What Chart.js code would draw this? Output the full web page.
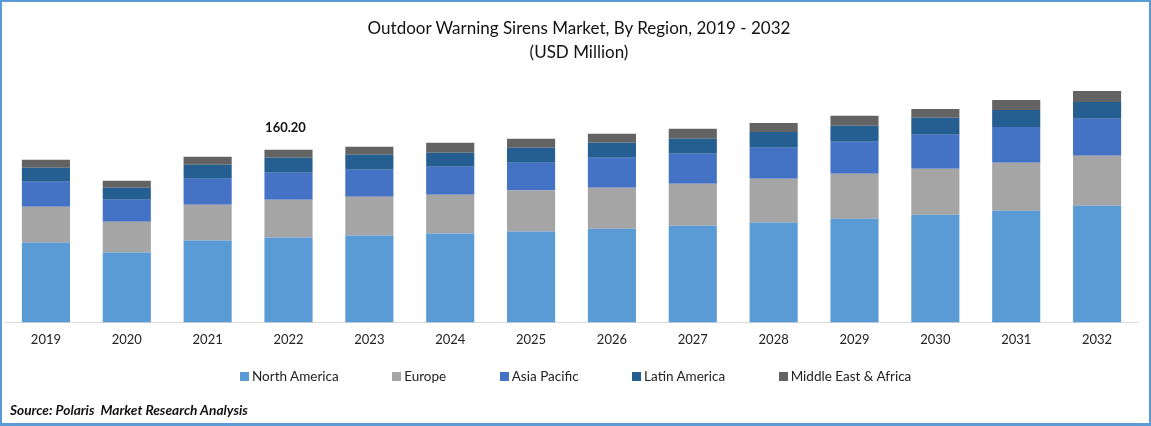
<!DOCTYPE html>
<html>
<head>
<meta charset="utf-8">
<script src="https://cdn.jsdelivr.net/npm/chart.js@4"></script>
<style>
  html, body { margin: 0; padding: 0; background: #fff; }
  #frame { position: relative; width: 1151px; height: 426px; box-sizing: border-box; overflow: hidden; border: 2px solid #5b9bd5; border-bottom-width: 3px; }
  #wrap { position: absolute; left: -2px; top: -2px; width: 1151px; height: 426px; }
  #title { position: absolute; left: 277px; width: 600px; top: 14px; text-align: center; font: 17px/24px Lato, sans-serif; color: #111; }
  #source { position: absolute; left: 8px; top: 399px; font: italic bold 13.7px Lato, sans-serif; color: #111; white-space: pre; }
  #legend { position: absolute; left: 238px; top: 366px; display: flex; gap: 53.5px; font: 13.5px Lato, sans-serif; color: #222; line-height: 16px; white-space: nowrap; }
  #legend span.item { display: flex; align-items: center; gap: 3px; }
  #legend i { display: block; width: 9px; height: 9px; }
</style>
</head>
<body>
<div id="frame">
  <div id="wrap"><canvas id="chart"></canvas></div>
  <div id="title">Outdoor Warning Sirens Market, By Region, 2019 - 2032<br>(USD Million)</div>
  <div id="legend"></div>
  <div id="source">Source: Polaris  Market Research Analysis</div>
</div>
<script>
const years = ['2019','2020','2021','2022','2023','2024','2025','2026','2027','2028','2029','2030','2031','2032'];
const northAmerica = [74.1,64.8,75.9,78.7,80.6,82.4,84.3,87.0,89.8,92.6,96.3,100.0,103.7,108.3];
const europe = [33.3,28.7,33.3,35.2,36.1,36.1,38.0,38.0,38.9,40.7,41.7,42.6,44.4,46.3];
const asiaPacific = [23.2,20.4,24.1,25.0,25.0,25.9,25.9,27.8,27.8,28.7,29.6,31.5,33.3,34.3];
const latinAmerica = [13.0,11.1,13.0,13.9,13.9,13.0,13.9,13.9,13.9,14.8,14.8,15.7,15.7,15.7];
const middleEast = [7.4,6.5,7.4,7.4,7.4,9.3,8.3,8.3,9.3,8.3,9.3,8.3,9.3,10.2];
const calloutYear = '2022';
const calloutText = '160.20';

const mkSeries = (label, data, color) => ({ label, data, backgroundColor: color, borderWidth: 0, categoryPercentage: 1, barPercentage: 0.595 });

// writes the one value shown above the 2022 bar
const calloutPlugin = {
    id: 'callout',
    afterDatasetsDraw(chart) {
        const idx = years.indexOf(calloutYear);
        const top = chart.getDatasetMeta(4).data[idx];
        const ctx = chart.ctx;
        ctx.save();
        ctx.font = 'bold 13px Lato, sans-serif';
        ctx.fillStyle = '#111';
        ctx.textAlign = 'center';
        ctx.textBaseline = 'middle';
        ctx.fillText(calloutText, top.x - 3, top.y - 22);
        ctx.restore();
    }
};

const chart = new Chart(document.getElementById('chart'), {
    type: 'bar',
    data: {
        labels: years,
        datasets: [
            mkSeries('North America', northAmerica, '#5b9bd5'),
            mkSeries('Europe', europe, '#a5a5a5'),
            mkSeries('Asia Pacific', asiaPacific, '#4472c4'),
            mkSeries('Latin America', latinAmerica, '#255e91'),
            mkSeries('Middle East & Africa', middleEast, '#636363')
        ]
    },
    plugins: [calloutPlugin],
    options: {
        responsive: true,
        maintainAspectRatio: false,
        animation: false,
        layout: { padding: { left: 5.5, right: 13.5, top: 71, bottom: 68 } },
        scales: {
            x: {
                stacked: true,
                grid: { display: false, drawTicks: false },
                border: { color: '#d9d9d9', width: 1 },
                ticks: { color: '#222', font: { family: 'Lato', size: 13 }, padding: 10, maxRotation: 0 }
            },
            y: { stacked: true, display: false, min: 0, max: 233.3 }
        },
        plugins: {
            title: { display: false },
            legend: { display: false },
            tooltip: { enabled: false }
        }
    }
});

// legend row built from the datasets so the item spacing stays tight vertically
document.getElementById('legend').innerHTML = chart.data.datasets.map(ds =>
    `<span class="item"><i style="background:${ds.backgroundColor}"></i>${ds.label.replace('&', '&amp;')}</span>`
).join('');
</script>
</body>
</html>
